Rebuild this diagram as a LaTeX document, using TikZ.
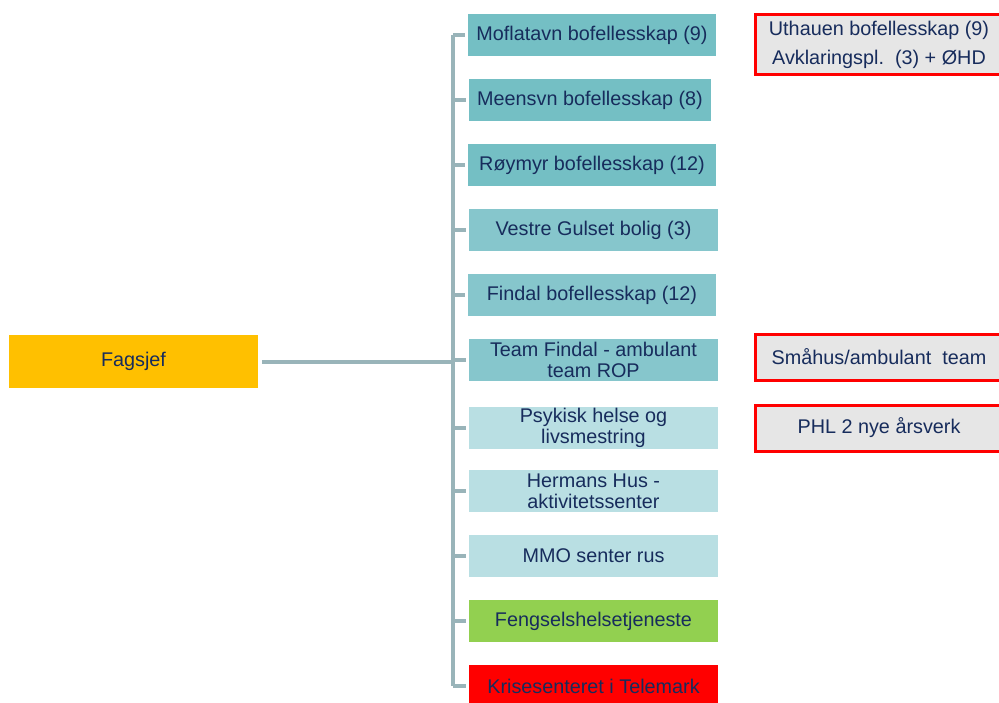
\documentclass[tikz,border=0pt]{standalone}
\usepackage{fontspec}
\setmainfont{Liberation Sans}
\usepackage{tikz}

\definecolor{navy}{RGB}{23,44,92}
\definecolor{tealA}{RGB}{116,191,196}
\definecolor{tealB}{RGB}{134,198,204}
\definecolor{tealC}{RGB}{185,223,227}
\definecolor{boss}{RGB}{255,192,0}
\definecolor{jail}{RGB}{146,208,80}
\definecolor{crisis}{RGB}{255,0,0}
\definecolor{note}{RGB}{230,230,230}
\definecolor{bus}{RGB}{153,180,185}

\begin{document}
\begin{tikzpicture}[x=1pt,y=-1pt,
    unit/.style={fill=#1,text=navy,align=center,minimum width=248pt,minimum height=42pt,inner sep=0pt,font=\fontsize{19.8}{21}\selectfont},
    extra/.style={fill=note,draw=crisis,line width=3pt,text=navy,align=center,minimum width=248pt,inner sep=0pt,font=\fontsize{19.8}{29}\selectfont},
    conn/.style={draw=bus,line width=4pt}]

    \useasboundingbox (0,0) rectangle (999,702);

    \node[unit=boss,minimum width=249pt,minimum height=53pt]  (fagsjef) at (133.5, 361.5)  {Fagsjef};

    \node[unit=tealA]  (moflatavn) at (592, 35)   {Moflatavn bofellesskap (9)};
    \node[unit=tealA,minimum width=242pt]  (meensvn) at (590, 100)  {Meensvn bofellesskap (8)};
    \node[unit=tealA]  (roymyr) at (592, 165)     {Røymyr bofellesskap (12)};
    \node[unit=tealB,minimum width=249pt]  (gulset) at (593.5, 230) {Vestre Gulset bolig (3)};
    \node[unit=tealB]  (findal) at (592, 295)     {Findal bofellesskap (12)};
    \node[unit=tealB,minimum width=249pt]  (teamrop) at (593.5, 360) {Team Findal - ambulant\\team ROP};
    \node[unit=tealC,minimum width=249pt]  (psykisk) at (593.5, 428) {Psykisk helse og\\livsmestring};
    \node[unit=tealC,minimum width=249pt]  (hermans) at (593.5, 491) {Hermans Hus -\\aktivitetssenter};
    \node[unit=tealC,minimum width=249pt]  (mmo) at (593.5, 556)     {MMO senter rus};
    \node[unit=jail,minimum width=249pt]   (fengsel) at (593.5, 621) {Fengselshelsetjeneste};
    \node[unit=crisis,minimum width=249pt] (krise) at (593.5, 686)   {Krisesenteret i Telemark};

    \node[extra,minimum height=60pt]  (uthauen) at (879, 44.5) {Uthauen bofellesskap (9)\\Avklaringspl.\ \ (3) + ØHD};
    \node[extra,minimum height=46pt]  (smahus) at (879, 357)   {Småhus/ambulant\ \ team};
    \node[extra,minimum height=46pt]  (phl) at (879, 428)      {PHL 2 nye årsverk};

    \coordinate (knot) at (453, 361.5);

    \draw[conn,shorten <=4pt]  (fagsjef.east) -- (knot);
    \draw[conn]  (knot |- moflatavn) -- (knot |- krise);
    \foreach \n in {moflatavn,meensvn,roymyr,gulset,findal,teamrop,psykisk,hermans,mmo,fengsel,krise}
      \draw[conn,shorten >=3pt]  (knot |- \n) -- (\n.west);
\end{tikzpicture}
\end{document}
